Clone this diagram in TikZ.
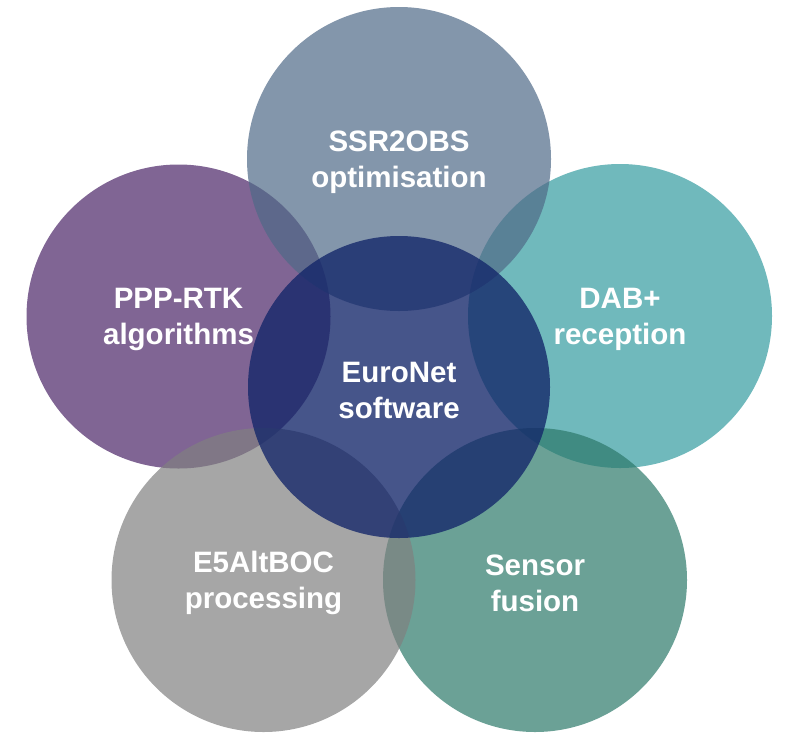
\documentclass[tikz,border=0pt]{standalone}
\usepackage{fontspec}
\setmainfont{Liberation Sans}

% Bubble fills (blended over white at the given opacity)
\definecolor{slate}{HTML}{4F6987}
\definecolor{plum}{HTML}{4A2466}
\definecolor{lagoon}{HTML}{339B9F}
\definecolor{stone}{HTML}{808080}
\definecolor{pine}{HTML}{2C796A}
\definecolor{navy}{HTML}{122569}

\begin{document}
\begin{tikzpicture}[x=1pt,y=-1pt,
  bubble/.style={circle, draw=none, minimum size=304pt, inner sep=0pt, fill opacity=0.7},
  hub/.style={bubble, minimum size=302pt, fill opacity=0.78},
  lbl/.style={text=white, align=center, inner sep=0pt, yshift=-3pt,
              font=\bfseries\fontsize{29.5}{36}\selectfont}]
\useasboundingbox (0,0) rectangle (786,734);

% Outer bubbles, back to front
\node[bubble, fill=plum]   (ppp)    at (178.5,316.5) {};
\node[bubble, fill=lagoon] (dab)    at (620,316)     {};
\node[bubble, fill=slate]  (ssr)    at (399,159)     {};
\node[bubble, fill=pine]   (sensor) at (535,580)     {};
\node[bubble, fill=stone]  (e5)     at (263.5,580)   {};
% Central bubble on top
\node[hub, fill=navy]      (core)   at (399,387)     {};

% Labels above all fills
\node[lbl] at (ssr)    {SSR2OBS\\optimisation};
\node[lbl] at (ppp)    {PPP-RTK\\algorithms};
\node[lbl] at (dab)    {DAB+\\reception};
\node[lbl] at (core)   {EuroNet\\software};
\node[lbl] at (e5)     {E5AltBOC\\processing};
\node[lbl] at (sensor) {Sensor\\fusion};
\end{tikzpicture}
\end{document}
